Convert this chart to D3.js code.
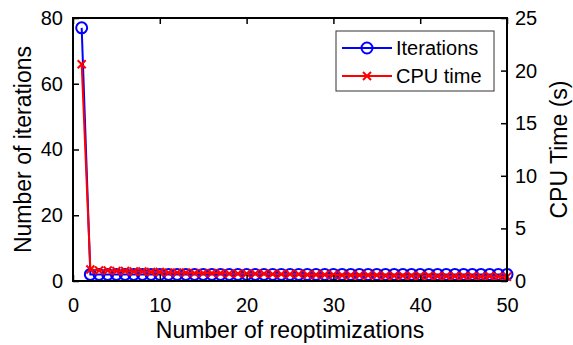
<!DOCTYPE html>
<html>
<head>
<meta charset="utf-8">
<script src="https://cdn.jsdelivr.net/npm/d3@7"></script>
<style>
  body { margin: 0; background: #fff; }
  text { font-family: "Liberation Sans", Arial, sans-serif; fill: #000; }
</style>
</head>
<body>
<div id="chart"></div>
<script>
'use strict';

// reoptimization index 1..50
var runs = d3.range(1, 51);
// iterations per reoptimization
var iterations = [77].concat(d3.range(49).map(function () { return 2; }));
// CPU time (s) per reoptimization
var cpuTime = [20.6, 1.1, 1.0, 1.0, 0.95, 0.95, 0.9, 0.9, 0.85, 0.85,
  0.8, 0.8, 0.8, 0.75, 0.75, 0.75, 0.75, 0.7, 0.7, 0.7,
  0.7, 0.7, 0.65, 0.65, 0.65, 0.65, 0.6, 0.6, 0.6, 0.6,
  0.55, 0.55, 0.55, 0.55, 0.55, 0.5, 0.5, 0.5, 0.5, 0.5,
  0.5, 0.45, 0.45, 0.45, 0.45, 0.45, 0.4, 0.45, 0.4, 0.4];
var xTicks = [0, 10, 20, 30, 40, 50];
var yLeftTicks = [0, 20, 40, 60, 80];
var yRightTicks = [0, 5, 10, 15, 20, 25];

var width = 573, height = 345;
var margin = {top: 18, right: 66, bottom: 64, left: 73};
var innerW = width - margin.left - margin.right;
var innerH = height - margin.top - margin.bottom;

var svg = d3.select('#chart').append('svg')
  .attr('width', width)
  .attr('height', height);

var g = svg.append('g')
  .attr('transform', 'translate(' + margin.left + ',' + margin.top + ')');

var x = d3.scaleLinear().domain([0, 50]).range([0, innerW]);
var yL = d3.scaleLinear().domain([0, 80]).range([innerH, 0]);
var yR = d3.scaleLinear().domain([0, 25]).range([innerH, 0]);

// series
var iterLine = d3.line()
  .x(function (d, i) { return x(runs[i]); })
  .y(function (d) { return yL(d); });
var cpuLine = d3.line()
  .x(function (d, i) { return x(runs[i]); })
  .y(function (d) { return yR(d); });

g.append('path')
  .datum(iterations)
  .attr('d', iterLine)
  .attr('fill', 'none')
  .attr('stroke', '#0000ff')
  .attr('stroke-width', 2);

g.selectAll('circle.it')
  .data(iterations)
  .enter().append('circle')
  .attr('class', 'it')
  .attr('cx', function (d, i) { return x(runs[i]); })
  .attr('cy', function (d) { return yL(d); })
  .attr('r', 5.5)
  .attr('fill', 'none')
  .attr('stroke', '#0000ff')
  .attr('stroke-width', 2);

g.append('path')
  .datum(cpuTime)
  .attr('d', cpuLine)
  .attr('fill', 'none')
  .attr('stroke', '#ff0000')
  .attr('stroke-width', 2);

var cross = 'M-4,-4L4,4M-4,4L4,-4';
g.selectAll('path.cpu')
  .data(cpuTime)
  .enter().append('path')
  .attr('class', 'cpu')
  .attr('d', cross)
  .attr('transform', function (d, i) {
    return 'translate(' + x(runs[i]) + ',' + yR(d) + ')';
  })
  .attr('stroke', '#ff0000')
  .attr('stroke-width', 2);

// axes, ticks inward
function styleAxis(sel) {
  sel.select('.domain').remove();
  sel.selectAll('line').attr('stroke', '#000').attr('stroke-width', 1.5);
  sel.selectAll('text').style('font-size', '20px').attr('fill', '#000');
}

g.append('g')
  .attr('transform', 'translate(0,' + innerH + ')')
  .call(d3.axisBottom(x).tickValues(xTicks).tickSizeInner(-6).tickSizeOuter(0).tickPadding(17))
  .call(styleAxis);
g.append('g')
  .call(d3.axisTop(x).tickValues(xTicks).tickSizeInner(-6).tickSizeOuter(0).tickFormat(''))
  .call(styleAxis);
g.append('g')
  .call(d3.axisLeft(yL).tickValues(yLeftTicks).tickSizeInner(-6).tickSizeOuter(0).tickPadding(10))
  .call(styleAxis);
g.append('g')
  .attr('transform', 'translate(' + innerW + ',0)')
  .call(d3.axisRight(yR).tickValues(yRightTicks).tickSizeInner(-6).tickSizeOuter(0).tickPadding(8))
  .call(styleAxis);

// box
g.append('rect')
  .attr('width', innerW)
  .attr('height', innerH)
  .attr('fill', 'none')
  .attr('stroke', '#000')
  .attr('stroke-width', 2);

// axis labels
svg.append('text')
  .attr('x', margin.left + innerW / 2)
  .attr('y', 338)
  .attr('text-anchor', 'middle')
  .style('font-size', '23px')
  .text('Number of reoptimizations');
svg.append('text')
  .attr('transform', 'translate(31,' + (margin.top + innerH / 2) + ') rotate(-90)')
  .attr('text-anchor', 'middle')
  .style('font-size', '23px')
  .text('Number of iterations');
svg.append('text')
  .attr('transform', 'translate(567,' + (margin.top + innerH / 2) + ') rotate(-90)')
  .attr('text-anchor', 'middle')
  .style('font-size', '23px')
  .text('CPU Time (s)');

// legend
var legend = svg.append('g').attr('transform', 'translate(336,31)');
legend.append('rect')
  .attr('width', 158)
  .attr('height', 60)
  .attr('fill', '#fff')
  .attr('stroke', '#333')
  .attr('stroke-width', 1);
var items = [
  {name: 'Iterations', color: '#0000ff', marker: 'circle'},
  {name: 'CPU time', color: '#ff0000', marker: 'cross'}
];
var li = legend.selectAll('g.item')
  .data(items)
  .enter().append('g')
  .attr('class', 'item')
  .attr('transform', function (d, i) { return 'translate(0,' + (17 + i * 28) + ')'; });
li.append('line')
  .attr('x1', 6).attr('x2', 56)
  .attr('stroke', function (d) { return d.color; })
  .attr('stroke-width', 2);
li.each(function (d) {
  var s = d3.select(this);
  if (d.marker === 'circle') {
    s.append('circle').attr('cx', 31).attr('r', 5.5)
      .attr('fill', 'none').attr('stroke', d.color).attr('stroke-width', 2);
  } else {
    s.append('path').attr('d', cross).attr('transform', 'translate(31,0)')
      .attr('stroke', d.color).attr('stroke-width', 2);
  }
});
li.append('text')
  .attr('x', 60)
  .attr('dy', '0.35em')
  .style('font-size', '20px')
  .text(function (d) { return d.name; });
</script>
</body>
</html>
